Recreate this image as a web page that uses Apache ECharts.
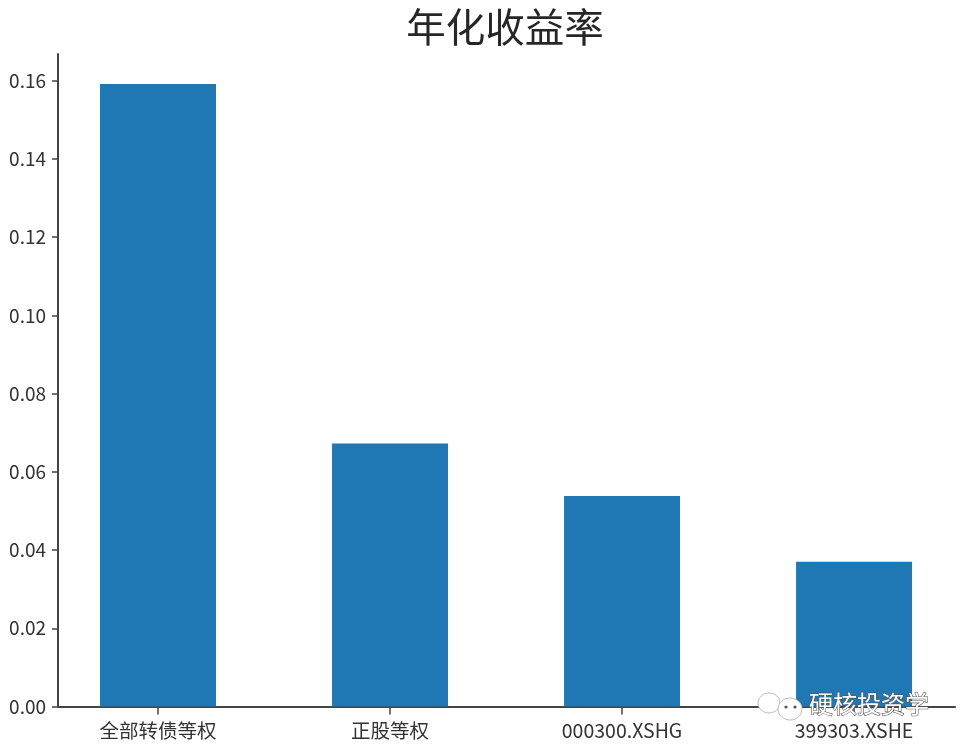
<!DOCTYPE html>
<html><head><meta charset="utf-8"><style>html,body{margin:0;background:#fff}#c{width:961px;height:750px}</style>
<script src="https://cdn.jsdelivr.net/npm/echarts@6/dist/echarts.min.js"></script></head>
<body><div id="c"></div><script>
const categories=['全部转债等权','正股等权','000300.XSHG','399303.XSHE'];
const positions=[0,1,2,3];
const values=[0.1591,0.0672,0.0538,0.0370];
const yTicks=[0,0.02,0.04,0.06,0.08,0.10,0.12,0.14,0.16];
const chart=echarts.init(document.getElementById('c'));
const F='"Noto Sans CJK SC"';
const axisCol='#444';
const bubble=(shape,z)=>({type:'ellipse',shape,z,style:{fill:'#fff',stroke:'#bbb',lineWidth:1}});
chart.setOption({animation:false,
title:{text:'年化收益率',left:500,top:2,textAlign:'center',textStyle:{fontFamily:F,fontSize:39.5,fontWeight:'normal',color:'#262626'}},
grid:{left:58,right:6,top:54,bottom:43.5},
xAxis:{type:'value',min:-0.431,max:3.435,splitLine:{show:false},
 axisLine:{lineStyle:{color:axisCol,width:2}},
 axisTick:{customValues:positions,length:8,lineStyle:{color:axisCol,width:1.5}},
 axisLabel:{customValues:positions,formatter:v=>categories[v],fontFamily:F,fontSize:19.5,color:'#333',margin:14}},
yAxis:{type:'value',min:0,max:0.1668,splitLine:{show:false},
 axisLine:{show:true,onZero:false,lineStyle:{color:axisCol,width:2}},
 axisTick:{show:true,customValues:yTicks,length:6,lineStyle:{color:axisCol,width:1.5}},
 axisLabel:{customValues:yTicks,fontFamily:F,fontSize:19,color:'#333',margin:12,formatter:v=>v.toFixed(2)}},
series:[{type:'bar',data:positions.map((p,i)=>[p,values[i]]),barWidth:116,itemStyle:{color:'#1f77b4'}}],
graphic:[
 bubble({cx:769,cy:703,rx:11,ry:10},100),
 bubble({cx:790,cy:709,rx:12,ry:11},101),
 {type:'circle',shape:{cx:786,cy:707,r:1.6},z:102,style:{fill:'#555'}},
 {type:'circle',shape:{cx:795,cy:707,r:1.6},z:102,style:{fill:'#555'}},
 {type:'text',x:809,y:692,z:103,style:{text:'硬核投资学',fontFamily:F,fontSize:24,fill:'#fff',stroke:'#555',lineWidth:1.2}}
]});
</script></body></html>
